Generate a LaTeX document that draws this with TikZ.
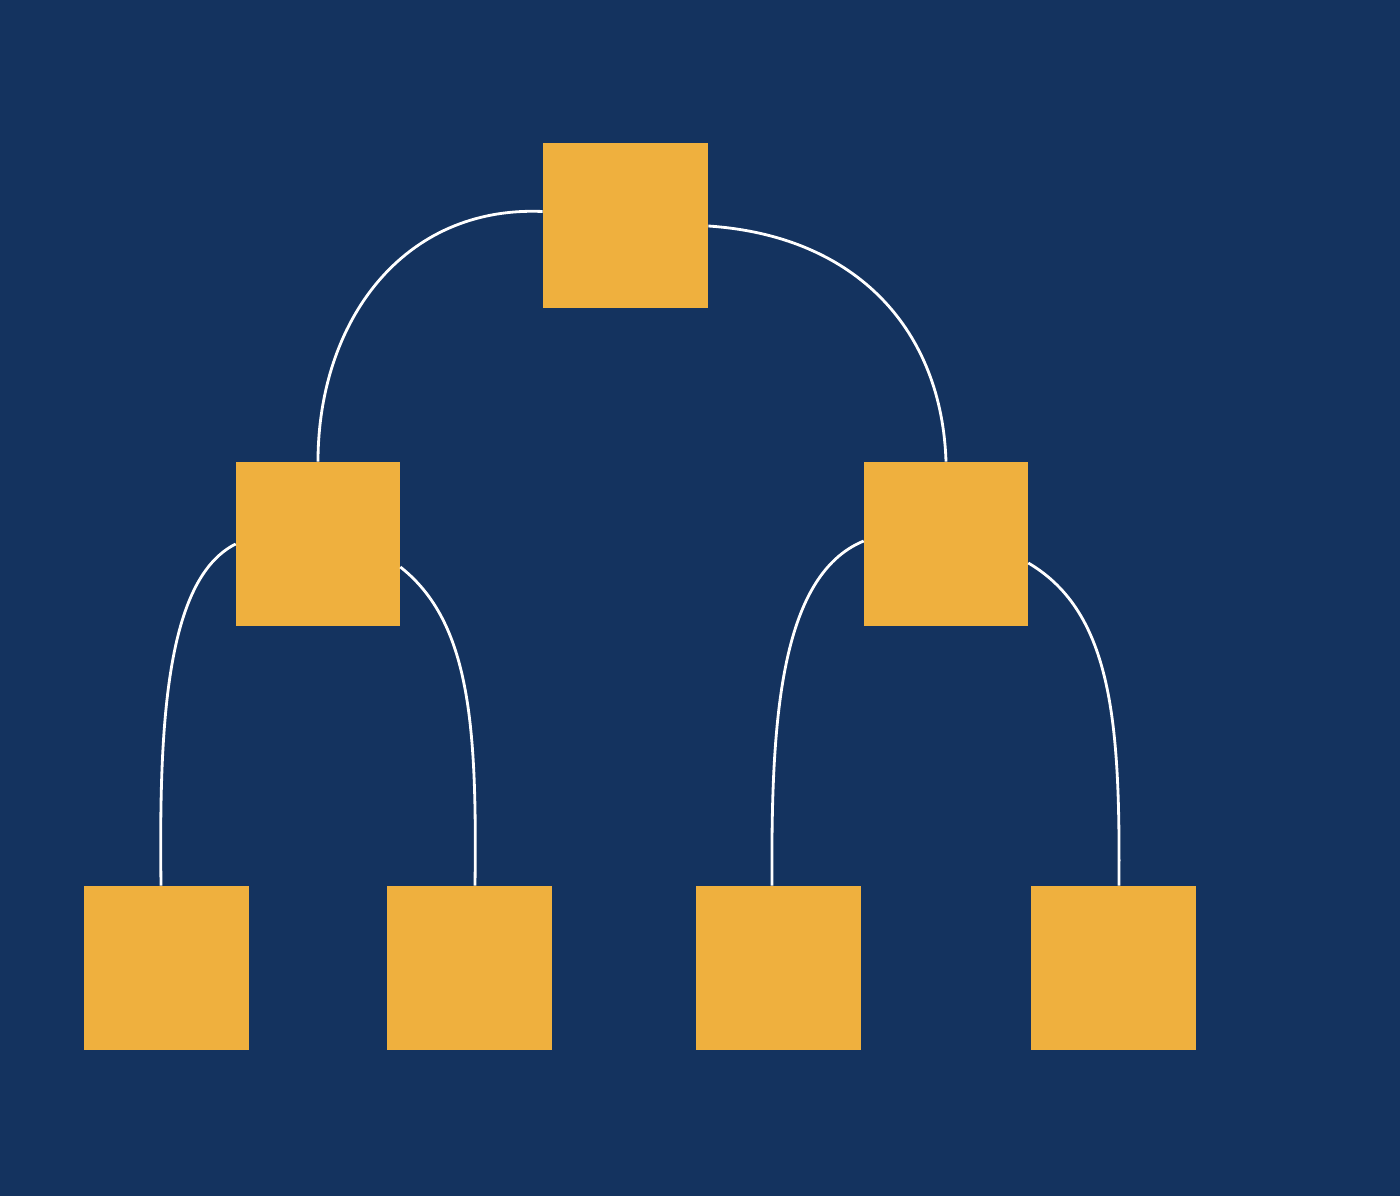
\documentclass[tikz,border=0pt]{standalone}
\definecolor{bgblue}{RGB}{20,51,95}
\definecolor{boxgold}{RGB}{239,176,62}
\begin{document}
\begin{tikzpicture}[x=0.02cm,y=-0.02cm,
  treebox/.style={fill=boxgold,draw=none,inner sep=0pt,minimum width=3.3cm,minimum height=3.3cm},
  link/.style={draw=white,line width=1.6pt}]
\fill[bgblue] (0,0) rectangle (1400,1196);
\useasboundingbox (0,0) rectangle (1400,1196);
\node[treebox] (root) at (625.5,225.5) {};
\node[treebox,minimum width=3.28cm,minimum height=3.28cm] (L) at (318,544) {};
\node[treebox,minimum width=3.28cm,minimum height=3.28cm] (R) at (946,544) {};
\node[treebox,minimum height=3.28cm] (LL) at (166.5,968) {};
\node[treebox,minimum height=3.28cm] (LR) at (469.5,968) {};
\node[treebox,minimum height=3.28cm] (RL) at (778.5,968) {};
\node[treebox,minimum height=3.28cm] (RR) at (1113.5,968) {};
\draw[link] ([yshift=0.28cm]root.west) .. controls +(-140,-6) and +(0,-140) .. (L.north);
\draw[link] ([yshift=-0.01cm]root.east) .. controls +(150,10) and +(-4,-130) .. (R.north);
\draw[link] (L.west) .. controls +(-70,35) and +(-2,-160) .. ([xshift=-0.11cm]LL.north);
\draw[link] ([yshift=-0.46cm]L.east) .. controls +(70,55) and +(2,-160) .. ([xshift=0.11cm]LR.north);
\draw[link] ([yshift=0.06cm]R.west) .. controls +(-85,35) and +(-1,-160) .. ([xshift=-0.13cm]RL.north);
\draw[link] ([yshift=-0.38cm]R.east) .. controls +(85,50) and +(1,-160) .. ([xshift=0.11cm]RR.north);
\end{tikzpicture}
\end{document}
